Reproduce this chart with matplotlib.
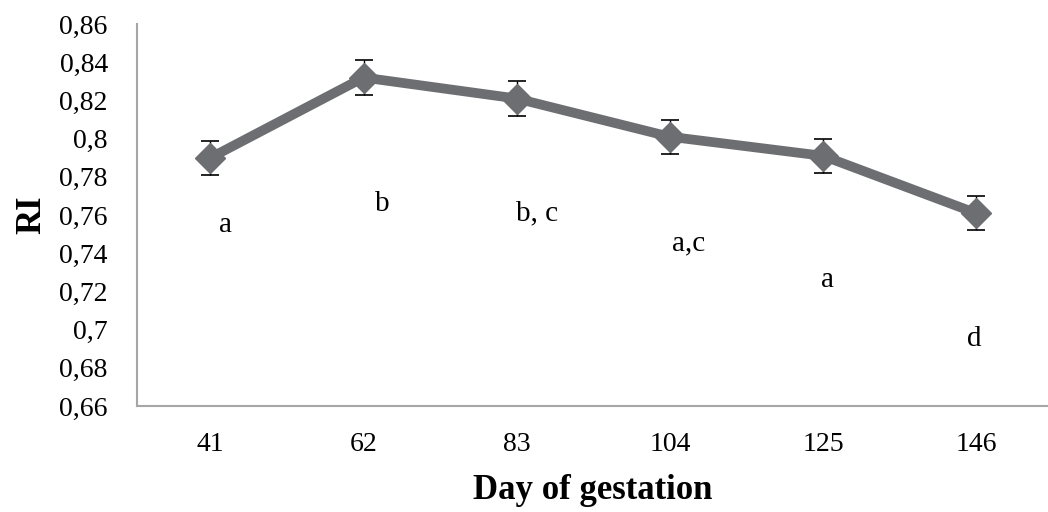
import matplotlib
matplotlib.use('Agg')
import matplotlib.pyplot as plt
from matplotlib.ticker import FuncFormatter, MultipleLocator

days = ['41', '62', '83', '104', '125', '146']
ri = [0.790, 0.832, 0.821, 0.801, 0.791, 0.761]
ri_err = [0.009, 0.009, 0.009, 0.009, 0.009, 0.009]
letters = ['a', 'b', 'b, c', 'a,c', 'a', 'd']
letter_y = [0.755, 0.766, 0.761, 0.745, 0.726, 0.695]
# horizontal offset of each letter from its category
letter_dx = [0.10, 0.125, 0.13, 0.12, 0.03, -0.01]

plt.rcParams['font.family'] = ['Liberation Serif', 'DejaVu Serif']

fig = plt.figure(figsize=(10.48, 5.12), dpi=100)
ax = fig.add_axes([137 / 1048, 0.207, 1 - 137 / 1048, 0.746])

x = list(range(len(days)))
ax.errorbar(x, ri, yerr=ri_err, fmt='none', ecolor='black', elinewidth=1,
            capsize=6.5, capthick=1.2, zorder=1)
ax.plot(x, ri, color='#6d6e71', lw=7, marker='D', markersize=15,
        solid_joinstyle='round', zorder=2)

for i in x:
    ax.text(i + letter_dx[i], letter_y[i], letters[i], fontsize=21,
            ha='center', va='center')

ax.set_xlim(-0.48, 5.47)
ax.set_ylim(0.66, 0.86)
ax.yaxis.set_major_locator(MultipleLocator(0.02))
ax.yaxis.set_major_formatter(FuncFormatter(lambda v, p: ('%g' % round(v, 2)).replace('.', ',')))
ax.set_xticks(x)
ax.set_xticklabels(days)
ax.tick_params(axis='both', length=0, labelsize=20)
ax.tick_params(axis='x', pad=19)
ax.tick_params(axis='y', pad=21)

for s in ['top', 'right']:
    ax.spines[s].set_visible(False)
for s in ['left', 'bottom']:
    ax.spines[s].set_color('#a6a6a6')
    ax.spines[s].set_linewidth(1.5)

ax.set_xlabel('Day of gestation', fontsize=25, fontweight='bold', labelpad=12)
ax.set_ylabel('RI', fontsize=25, fontweight='bold', labelpad=8)

fig.savefig('out.png', dpi=100)
